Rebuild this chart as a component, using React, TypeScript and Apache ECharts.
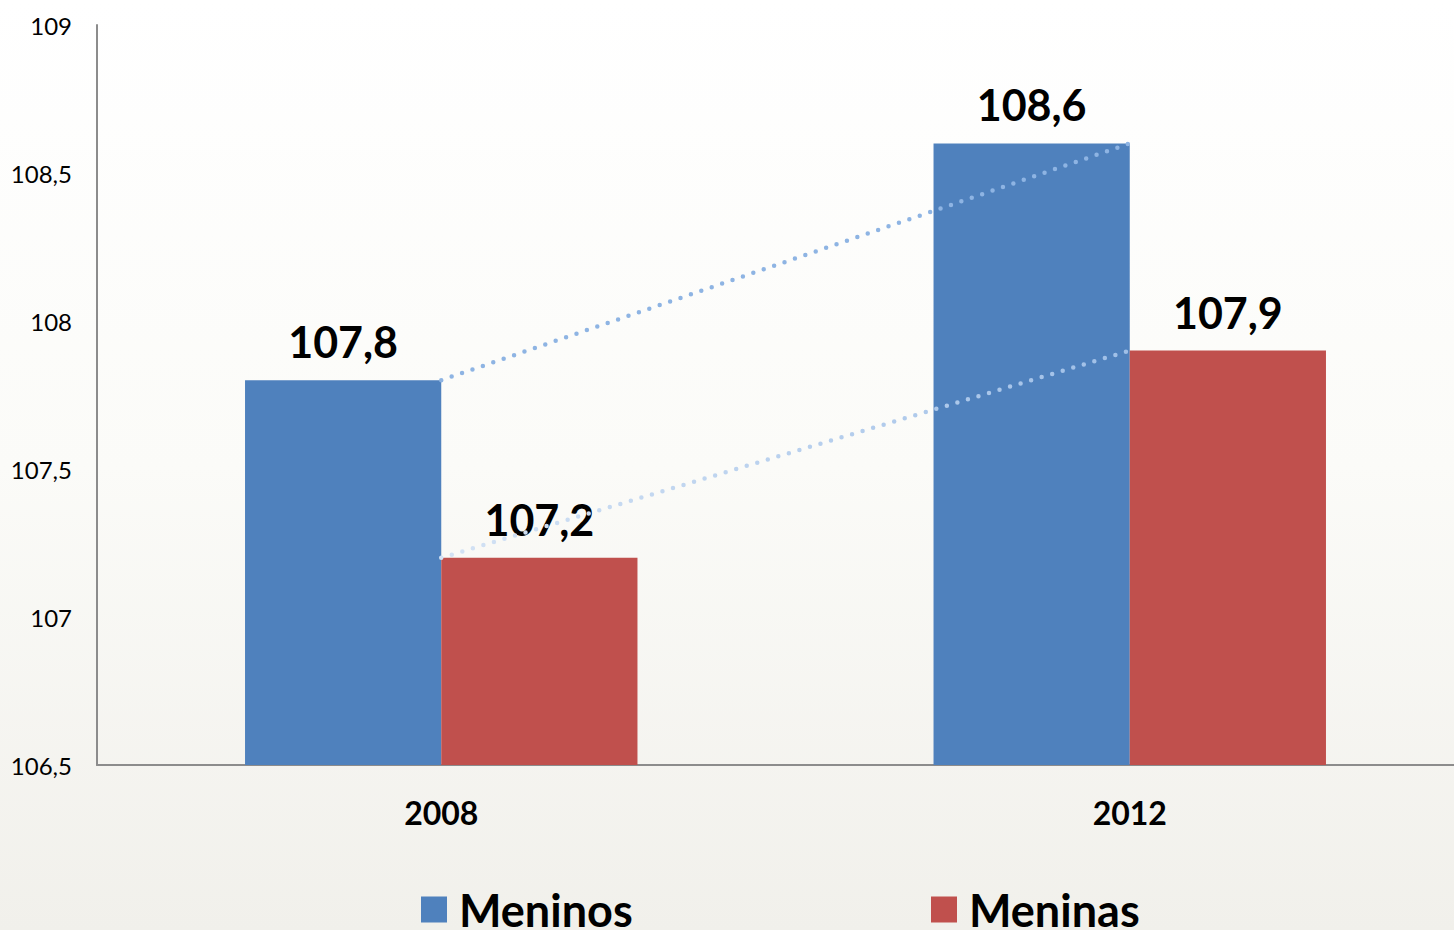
import React, { useEffect, useRef } from "react";
import * as echarts from "echarts";

const categories = ["2008", "2012"];
const meninos = [107.8, 108.6];
const meninas = [107.2, 107.9];
const yTicks = { min: 106.5, max: 109, interval: 0.5 };

const fmt = (v: number) => String(v).replace(".", ",");

export default function App() {
  const ref = useRef<HTMLDivElement>(null);
  useEffect(() => {
    document.body.style.margin = "0";
    document.body.style.overflow = "hidden";
    const chart = echarts.init(ref.current!, null, { renderer: "svg" });
    const font = "Lato, 'Open Sans', sans-serif";
    const legendText = { fontSize: 45, fontWeight: "bold", color: "#000", fontFamily: font, padding: [0, 0, 0, 7] };
    chart.setOption({
      animation: false,
      backgroundColor: new echarts.graphic.LinearGradient(0, 0, 0, 1, [
        { offset: 0, color: "#ffffff" },
        { offset: 0.5, color: "#fbfbf8" },
        { offset: 1, color: "#f1f0eb" },
      ]),
      textStyle: { fontFamily: font },
      grid: { left: 97, top: 25, bottom: 165, right: 0, containLabel: false },
      legend: [
        {
          data: ["Meninos"],
          left: 416,
          top: 882,
          icon: "rect",
          itemWidth: 26,
          itemHeight: 26,
          itemGap: 10,
          textStyle: legendText,
        },
        {
          data: ["Meninas"],
          left: 926,
          top: 882,
          icon: "rect",
          itemWidth: 26,
          itemHeight: 26,
          textStyle: legendText,
        },
      ],
      xAxis: {
        type: "category",
        data: categories,
        axisTick: { show: false },
        axisLine: { lineStyle: { color: "#8c8c8c", width: 2 } },
        axisLabel: { fontSize: 32, fontWeight: "bold", color: "#000", margin: 31, fontFamily: font },
      },
      yAxis: {
        type: "value",
        min: yTicks.min,
        max: yTicks.max,
        interval: yTicks.interval,
        splitLine: { show: false },
        axisTick: { show: false },
        axisLine: { show: true, lineStyle: { color: "#8c8c8c", width: 2 } },
        axisLabel: { fontSize: 24, color: "#000", margin: 25, formatter: (v: number) => fmt(v), fontFamily: font },
      },
      series: [
        {
          name: "Meninos",
          type: "bar",
          data: meninos,
          barGap: "0%",
          barCategoryGap: "43%",
          itemStyle: { color: "#4f81bd" },
          label: {
            show: true,
            position: "top",
            distance: 17,
            fontSize: 43,
            fontWeight: "bold",
            color: "#000",
            fontFamily: font,
            formatter: (p: any) => fmt(p.value),
          },
          z: 2,
        },
        {
          name: "Meninas",
          type: "bar",
          data: meninas,
          itemStyle: { color: "#c0504d" },
          label: {
            show: true,
            position: "top",
            distance: 17,
            fontSize: 43,
            fontWeight: "bold",
            color: "#000",
            fontFamily: font,
            formatter: (p: any) => fmt(p.value),
          },
          z: 2,
        },
        {
          name: "lineMeninos",
          type: "line",
          data: meninos,
          symbol: "none",
          z: 5,
          lineStyle: { color: "#8eb4e3", width: 4.5, type: [0, 11], cap: "round" },
          silent: true,
        },
        {
          name: "lineMeninas",
          type: "line",
          data: meninas,
          symbol: "none",
          z: 5,
          lineStyle: {
            color: new echarts.graphic.LinearGradient(0, 0, 1, 0, [
              { offset: 0, color: "#d3e2f4" },
              { offset: 1, color: "#9fbfe7" },
            ]),
            width: 4.5,
            type: [0, 11],
            cap: "round",
          },
          silent: true,
        },
      ],
    });
    return () => chart.dispose();
  }, []);
  return <div ref={ref} style={{ position: "fixed", left: 0, top: 0, width: 1474, height: 930 }} />;
}
